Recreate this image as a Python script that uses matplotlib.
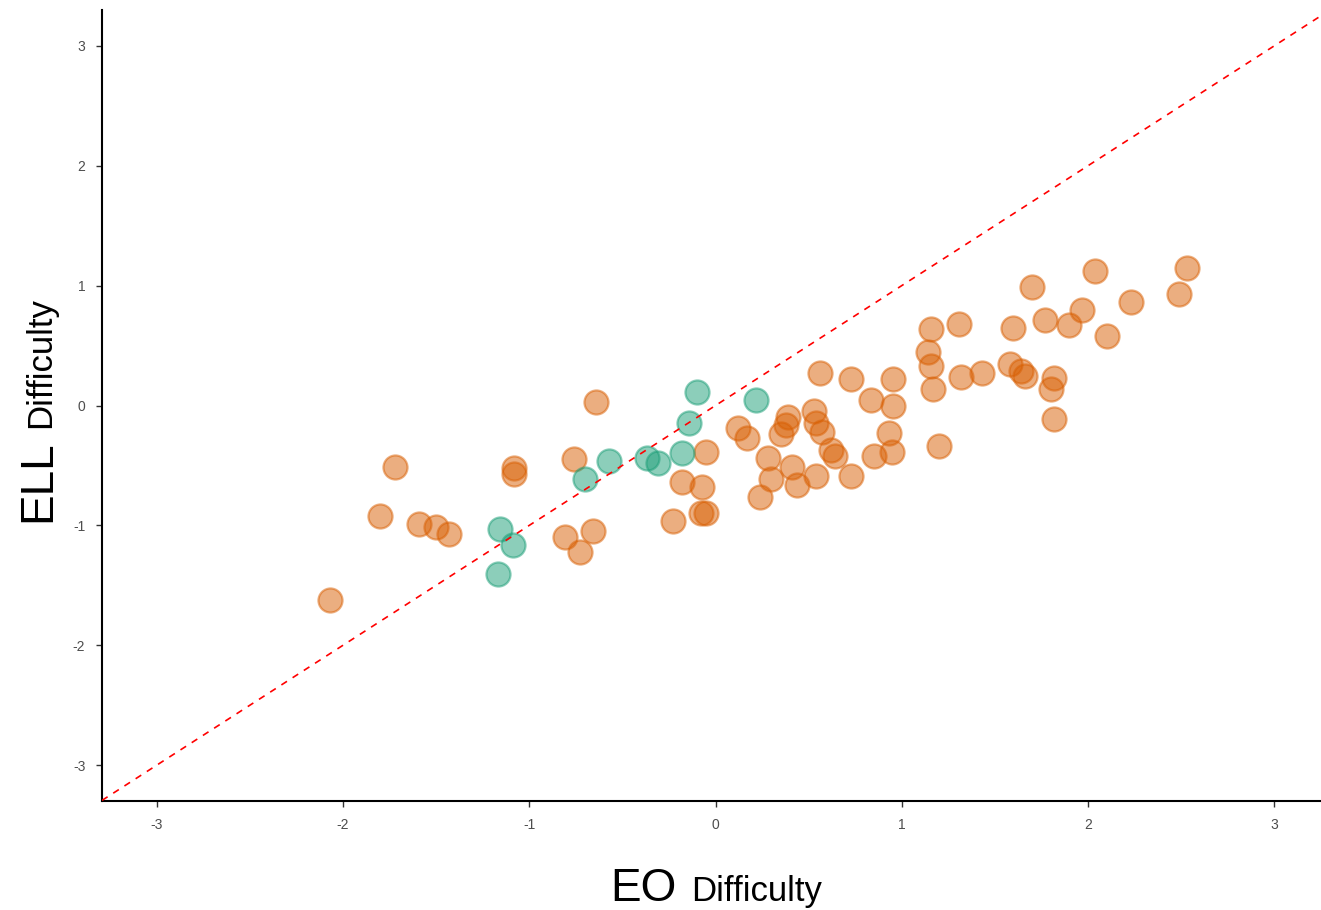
import matplotlib
matplotlib.use("Agg")
import matplotlib.pyplot as plt
import numpy as np

plt.rcParams['font.family'] = ['Liberation Sans Narrow', 'Liberation Sans', 'DejaVu Sans']

# Orange group (EO difficulty, ELL difficulty)
orange_x = [-2.07, -1.80, -1.72, -1.59, -1.50, -1.43, -1.08, -1.08, -0.81, -0.76,
            -0.73, -0.66, -0.64, -0.23, -0.18, -0.07, -0.08, -0.05, -0.05, 0.12,
            0.17, 0.24, 0.28, 0.30, 0.35, 0.38, 0.39, 0.41, 0.44, 0.53,
            0.54, 0.57, 0.54, 0.56, 0.62, 0.64, 0.73, 0.73, 0.835, 0.85,
            0.93, 0.95, 0.955, 0.955, 1.14, 1.16, 1.16, 1.17, 1.20, 1.31,
            1.32, 1.43, 1.58, 1.60, 1.64, 1.66, 1.70, 1.77, 1.80, 1.82,
            1.82, 1.90, 1.97, 2.04, 2.10, 2.23, 2.49, 2.53]
orange_y = [-1.62, -0.92, -0.51, -0.99, -1.01, -1.07, -0.52, -0.57, -1.10, -0.45,
            -1.22, -1.05, 0.03, -0.96, -0.64, -0.68, -0.90, -0.90, -0.39, -0.19,
            -0.27, -0.76, -0.44, -0.61, -0.24, -0.16, -0.10, -0.51, -0.66, -0.05,
            -0.15, -0.22, -0.59, 0.27, -0.37, -0.42, 0.22, -0.59, 0.05, -0.42,
            -0.23, -0.39, 0.22, 0.00, 0.45, 0.64, 0.33, 0.14, -0.335, 0.68,
            0.24, 0.27, 0.35, 0.65, 0.29, 0.25, 0.99, 0.71, 0.14, 0.23,
            -0.115, 0.67, 0.80, 1.12, 0.58, 0.86, 0.93, 1.15]

# Green group
green_x = [-0.10, 0.22, -0.14, -0.18, -0.37, -0.31, -0.57, -0.70, -1.16, -1.09, -1.17]
green_y = [0.11, 0.05, -0.15, -0.40, -0.44, -0.48, -0.46, -0.61, -1.03, -1.16, -1.41]

ticks = [-3, -2, -1, 0, 1, 2, 3]
tick_labels = ['-3', '-2', '-1', '0', '1', '2', '3']

W, H = 1321, 910
fig = plt.figure(figsize=(W / 100, H / 100), dpi=100)
ax = fig.add_axes([102 / W, (H - 801) / H, (W - 102) / W, (801 - 10) / H])

orange = '#D95F02'
green = '#1B9E77'
ax.scatter(orange_x, orange_y, s=300, facecolor=orange, edgecolor=orange,
           alpha=0.5, linewidths=1.6, zorder=2)
ax.scatter(green_x, green_y, s=300, facecolor=green, edgecolor=green,
           alpha=0.5, linewidths=1.6, zorder=2)

ax.axline((0, 0), slope=1, color='red', lw=1.2, linestyle=(0, (4, 4)), zorder=3)

ax.set_xlim(-3.295, 3.252)
ax.set_ylim(-3.30, 3.30)
ax.set_xticks(ticks)
ax.set_xticklabels(tick_labels)
ax.set_yticks(ticks)
ax.set_yticklabels(tick_labels)
ax.tick_params(axis='both', colors='#333333', labelcolor='#4D4D4D', length=4,
               width=1, labelsize=10, pad=8)
for side in ['top', 'right']:
    ax.spines[side].set_visible(False)
for side in ['left', 'bottom']:
    ax.spines[side].set_linewidth(1.5)
    ax.spines[side].set_color('black')

# X label: "EO" large, "Difficulty" smaller
fig.text(677 / W, (H - 901) / H, 'EO', fontsize=33, ha='right', va='baseline')
fig.text(691 / W, (H - 901) / H, 'Difficulty', fontsize=25, ha='left', va='baseline')

# Y label: rotated
fig.text(50 / W, (H - 522) / H, 'ELL', fontsize=33, rotation=90,
         rotation_mode='anchor', ha='left', va='baseline')
fig.text(50 / W, (H - 428) / H, 'Difficulty', fontsize=25, rotation=90,
         rotation_mode='anchor', ha='left', va='baseline')

fig.savefig('out.png', dpi=100)
